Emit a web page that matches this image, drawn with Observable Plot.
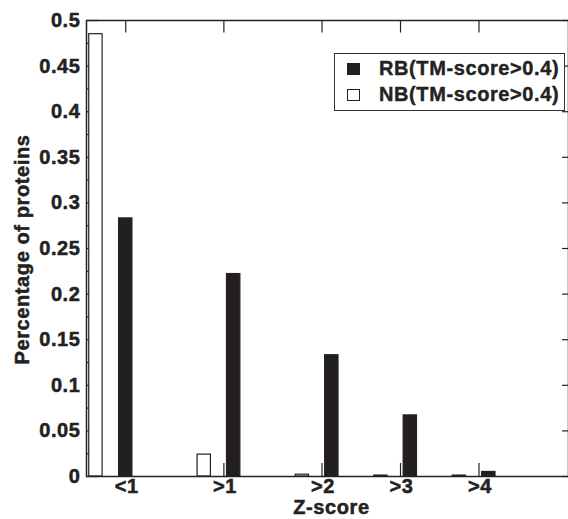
<!DOCTYPE html>
<html>
<head>
<meta charset="utf-8">
<script src="https://cdn.jsdelivr.net/npm/d3@7"></script>
<script src="https://cdn.jsdelivr.net/npm/@observablehq/plot@0.6"></script>
<style>
  html, body { margin: 0; padding: 0; background: #fff; }
  #wrap { position: relative; width: 568px; height: 519px; overflow: hidden; font-family: "Liberation Sans", Arial, sans-serif; }
  #legend { position: absolute; left: 334px; top: 53px; width: 231px; height: 58px; border: 1.5px solid #333; background: #fff; box-sizing: border-box; }
  .sw { position: absolute; left: 12px; width: 13px; height: 12px; box-sizing: border-box; border: 1.2px solid #222; }
  .lab { position: absolute; left: 44px; white-space: nowrap; font-weight: bold; font-size: 20px; letter-spacing: 0.6px; color: #222; line-height: 20px; -webkit-text-stroke: 0.4px #222; }
</style>
</head>
<body>
<div id="wrap"></div>
<script>
// ---- data ----
const categories = ["<1", ">1", ">2", ">3", ">4"];
const categoryPos = [0.5, 1.75, 3, 4, 5];          // x positions of the category ticks (numeric x axis)
const seriesNames = ["RB(TM-score>0.4)", "NB(TM-score>0.4)"];
const rbValues = [0.283, 0.222, 0.133, 0.067, 0.005];
const nbValues = [0.485, 0.024, 0.002, 0.001, 0.001];
const rbPos = [0.5, 1.875, 3.125, 4.125, 5.125];
const nbPos = [0.12, 1.5, 2.75, 3.75, 4.75];
const yTicks = [0, 0.05, 0.1, 0.15, 0.2, 0.25, 0.3, 0.35, 0.4, 0.45, 0.5];
const yMinorTicks = [0.025, 0.075, 0.125, 0.175, 0.225, 0.275, 0.325, 0.375, 0.425, 0.475];
const xTitle = "Z-score";
const yTitle = "Percentage of proteins";

const colors = {RB: "#231f20", NB: "#ffffff"};

const bars = [
  ...rbValues.map((v, i) => ({series: "RB", cat: categories[i], x: rbPos[i], value: v})),
  ...nbValues.map((v, i) => ({series: "NB", cat: categories[i], x: nbPos[i], value: v}))
];

const W = 568, H = 519;
const mL = 86, mR = 0, mT = 20, mB = 43;
const plotW = W - mL - mR, plotH = H - mT - mB;
const halfBar = 0.085;
const fmt = d => String(+d.toFixed(3));
const font = {fontSize: 20, fontWeight: "bold", fill: "#222", stroke: "#222", strokeWidth: 0.5};

const chart = Plot.plot({
  width: W,
  height: H,
  marginLeft: mL, marginRight: mR, marginTop: mT, marginBottom: mB,
  style: {fontFamily: '"Liberation Sans", Arial, sans-serif', letterSpacing: "0.6px", background: "#fff", overflow: "visible"},
  x: {type: "linear", domain: [0, 6.14], axis: null},
  y: {domain: [0, 0.5], axis: null},
  marks: [
    // ticks (inward, Grace style)
    Plot.tickY(yTicks, {y: d => d, insetRight: plotW - 12.5, stroke: "#222", strokeWidth: 1.2}),
    Plot.tickY(yMinorTicks, {y: d => d, insetRight: plotW - 6.5, stroke: "#222", strokeWidth: 1.2}),
    Plot.tickY(yTicks, {y: d => d, insetLeft: plotW - 6, stroke: "#222", strokeWidth: 1.2}),
    Plot.tickX(categoryPos, {x: d => d, insetBottom: plotH - 12.5, stroke: "#222", strokeWidth: 1.2}),
    Plot.tickX(categoryPos, {x: d => d, insetTop: plotH - 13, stroke: "#222", strokeWidth: 1.2}),
    // bars
    Plot.rectY(bars, {
      x1: d => d.x - halfBar, x2: d => d.x + halfBar, y: "value",
      fill: d => colors[d.series], stroke: "#222", strokeWidth: 1.2
    }),
    // tick labels
    Plot.text(yTicks, {y: d => d, text: fmt, frameAnchor: "left", textAnchor: "end", dx: -6, ...font}),
    Plot.text(categories, {x: (d, i) => categoryPos[i], text: d => d, frameAnchor: "bottom", dy: 16, dx: 1, ...font}),
    // axis titles
    Plot.text([xTitle], {text: d => d, frameAnchor: "bottom", textAnchor: "middle", dy: 37, dx: 4, ...font}),
    Plot.text([yTitle], {text: d => d, frameAnchor: "left", textAnchor: "middle", rotate: -90, dx: -64, dy: 1, ...font}),
    Plot.frame({stroke: "#222", strokeWidth: 1.5})
  ]
});

const wrap = document.getElementById("wrap");
wrap.appendChild(chart);

// legend (inside the plot area, top right)
const legend = document.createElement("div");
legend.id = "legend";
const keys = ["RB", "NB"];
keys.forEach((k, i) => {
  const sw = document.createElement("div");
  sw.className = "sw";
  sw.style.top = (9 + i * 26) + "px";
  sw.style.background = colors[k];
  sw.style.borderColor = "#222";
  const lab = document.createElement("div");
  lab.className = "lab";
  lab.style.top = (4 + i * 26) + "px";
  lab.textContent = seriesNames[i];
  legend.appendChild(sw);
  legend.appendChild(lab);
});
wrap.appendChild(legend);
</script>
</body>
</html>
